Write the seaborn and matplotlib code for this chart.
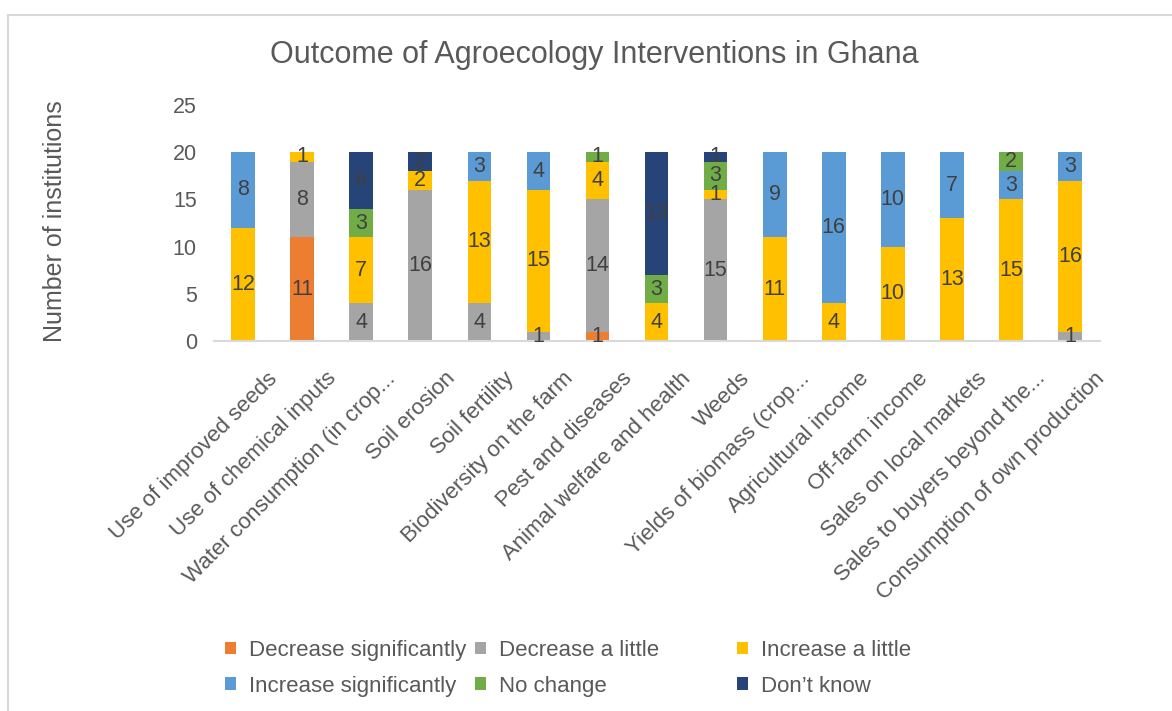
import numpy as np
import pandas as pd
import matplotlib
matplotlib.use("Agg")
import matplotlib.pyplot as plt
from matplotlib.patches import Patch, Rectangle
from matplotlib.transforms import ScaledTranslation
import seaborn as sns

# ---- data -------------------------------------------------------------
categories = [
    "Use of improved seeds",
    "Use of chemical inputs",
    "Water consumption (in crop...",
    "Soil erosion",
    "Soil fertility",
    "Biodiversity on the farm",
    "Pest and diseases",
    "Animal welfare and health",
    "Weeds",
    "Yields of biomass (crop...",
    "Agricultural income",
    "Off-farm income",
    "Sales on local markets",
    "Sales to buyers beyond the...",
    "Consumption of own production",
]
outcomes = [
    "Decrease significantly",
    "Decrease a little",
    "Increase a little",
    "Increase significantly",
    "No change",
    "Don\u2019t know",
]
decrease_significantly = [0, 11, 0, 0, 0, 0, 1, 0, 0, 0, 0, 0, 0, 0, 0]
decrease_a_little      = [0, 8, 4, 16, 4, 1, 14, 0, 15, 0, 0, 0, 0, 0, 1]
increase_a_little      = [12, 1, 7, 2, 13, 15, 4, 4, 1, 11, 4, 10, 13, 15, 16]
increase_significantly = [8, 0, 0, 0, 3, 4, 0, 0, 0, 9, 16, 10, 7, 3, 3]
no_change              = [0, 0, 3, 0, 0, 0, 1, 3, 3, 0, 0, 0, 0, 2, 0]
dont_know              = [0, 0, 6, 2, 0, 0, 0, 13, 1, 0, 0, 0, 0, 0, 0]
y_ticks = [0, 5, 10, 15, 20, 25]

colors = ["#ED7D31", "#A5A5A5", "#FFC000", "#5B9BD5", "#70AD47", "#264478"]
series = [decrease_significantly, decrease_a_little, increase_a_little,
          increase_significantly, no_change, dont_know]

# long table for seaborn
rows = []
for outcome, vals in zip(outcomes, series):
    for cat, v in zip(categories, vals):
        rows.append({"category": cat, "outcome": outcome, "count": v})
df = pd.DataFrame(rows)
df["category"] = pd.Categorical(df["category"], categories=categories, ordered=True)

# ---- figure -----------------------------------------------------------
sns.set_theme(style="white")
plt.rcParams["font.family"] = ["Liberation Sans", "DejaVu Sans"]
text_gray = "#595959"

fig = plt.figure(figsize=(11.72, 7.11), dpi=100)
ax = fig.add_axes([0.1822, 0.5204, 0.7560, 0.3319])

palette = dict(zip(outcomes, colors))
sns.histplot(
    data=df, x="category", hue="outcome", weights="count",
    hue_order=outcomes[::-1], palette=palette, multiple="stack",
    discrete=True, shrink=0.4, alpha=1, linewidth=0, legend=False, ax=ax,
)

# value labels centred in each segment
bottoms = np.zeros(len(categories))
for vals in series:
    vals = np.asarray(vals, dtype=float)
    for i, v in enumerate(vals):
        if v > 0:
            ax.text(i, bottoms[i] + v / 2, f"{int(v)}", ha="center", va="center",
                    fontsize=15.5, color="#404040")
    bottoms += vals

ax.set_xlim(-0.5, len(categories) - 0.5)
ax.set_ylim(0, 25)
ax.set_yticks(y_ticks)
ax.set_yticklabels([str(t) for t in y_ticks], fontsize=15.5, color=text_gray)
ax.set_xticks(range(len(categories)))
ax.set_xticklabels([])
ax.tick_params(axis="x", length=0)
ax.tick_params(axis="y", length=0, pad=12)
ax.set_xlabel("")
ax.set_ylabel("")

# rotated category labels, anchored just below each bar and nudged right
label_tf = ax.get_xaxis_transform() + ScaledTranslation(0.24, -0.27, fig.dpi_scale_trans)
for i, cat in enumerate(categories):
    ax.text(i, 0, cat, transform=label_tf, rotation=45, rotation_mode="anchor",
            ha="right", va="top", fontsize=16, color=text_gray)

for side in ["top", "right", "left"]:
    ax.spines[side].set_visible(False)
ax.spines["bottom"].set_color("#d9d9d9")
ax.spines["bottom"].set_linewidth(1.5)
ax.grid(False)

fig.text(0.507, 0.923, "Outcome of Agroecology Interventions in Ghana",
         ha="center", va="center", fontsize=22, color=text_gray)
fig.text(0.047, 0.689, "Number of institutions", rotation=90,
         ha="center", va="center", fontsize=18, color=text_gray)

# legend: three columns, two rows
col_x = [225 / 1172, 475 / 1172, 737 / 1172]
col_items = [[0, 3], [1, 4], [2, 5]]
for cx, idxs in zip(col_x, col_items):
    handles = [Patch(facecolor=colors[k], edgecolor="none", label=outcomes[k]) for k in idxs]
    leg = fig.legend(handles=handles, loc="center left", bbox_to_anchor=(cx, 0.0600),
                     frameon=False, fontsize=16, handlelength=0.5, handleheight=0.5,
                     handletextpad=0.6, borderpad=0, borderaxespad=0, labelspacing=0.66)
    for t in leg.get_texts():
        t.set_color(text_gray)

# outer chart frame
fig.patches.append(Rectangle((8 / 1172, -0.05), 1.1, (711 - 15) / 711 + 0.05,
                             transform=fig.transFigure, fill=False,
                             edgecolor="#d9d9d9", linewidth=1.5))

fig.savefig("out.png", dpi=100)
